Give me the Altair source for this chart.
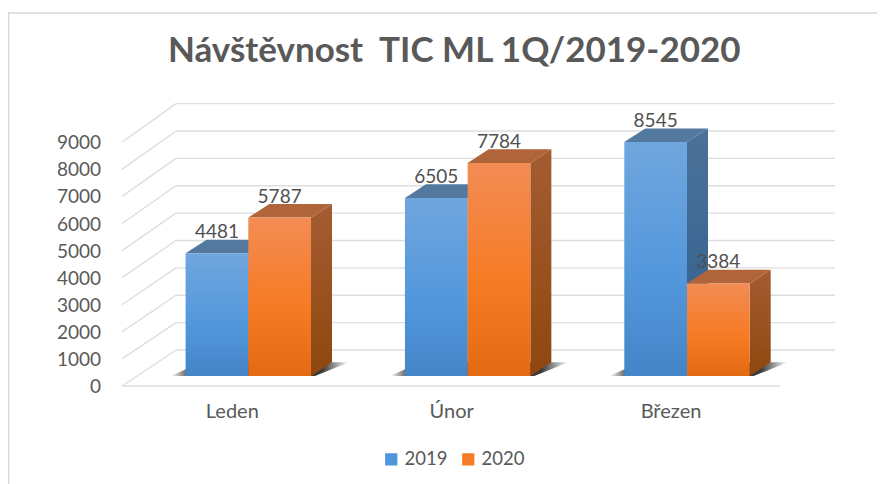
import altair as alt
import pandas as pd

categories = ["Leden", "Únor", "Březen"]
years = ["2019", "2020"]
values_2019 = [4481, 6505, 8545]
values_2020 = [5787, 7784, 3384]
grid_values = [0, 1000, 2000, 3000, 4000, 5000, 6000, 7000, 8000, 9000]

W, H = 869, 386
TOP = 90
PXV = 0.02737      # px per visit
SLOT = 219.35      # px per category
X0 = 248.3 - 8     # px of first category centre
Y0 = 376 - 8 - TOP # px of value 0 on bar front
BAR = 62.7 / SLOT
DX = 21 / SLOT
DV = 13.7 / PXV
FDX = 54 / SLOT
FRONT_V = -10 / PXV
BACK_V = 26 / PXV
FRONT_K = 27.08 / 27.37   # the nearer edge of the left wall is slightly tighter
WALL_L = (122 - 8 - X0) / SLOT
WALL_R = (835 - 8 - X0) / SLOT
FLOOR_R = (780 - 8 - X0) / SLOT

xs = alt.Scale(domain=[-X0 / SLOT, (W - X0) / SLOT], range=[0, W], nice=False, zero=False)
ys = alt.Scale(domain=[(Y0 - H) / PXV, Y0 / PXV], range=[H, 0], nice=False, zero=False)


def X(f):
    return alt.X(f, type="quantitative", scale=xs, axis=None)


def Y(f):
    return alt.Y(f, type="quantitative", scale=ys, axis=None)


def grad(*stops, horizontal=False):
    st = [alt.GradientStop(color=c, offset=o) for o, c in stops]
    if horizontal:
        return alt.LinearGradient(gradient="linear", stops=st, x1=0, x2=1, y1=0, y2=0)
    return alt.LinearGradient(gradient="linear", stops=st, x1=0, x2=0, y1=0, y2=1)


def quad(key, bl, br, tl, tr, low, high):
    """Parallelogram with lower edge bl..br at `low`, upper edge tl..tr at `high`."""
    return [
        dict(c=key, x=bl, y=low, y2=low),
        dict(c=key, x=tl, y=high, y2=low),
        dict(c=key, x=br, y=high, y2=low),
        dict(c=key, x=tr, y=high, y2=high),
    ]


SERIES = {
    "2019": dict(vals=values_2019, lo=-BAR, hi=0,
                 front=grad((0, "#70A6DE"), (0.55, "#5498DC"), (1, "#4485C8")),
                 side=grad((0, "#4C7198"), (1, "#2F5F90")), top="#54799F"),
    "2020": dict(vals=values_2020, lo=0, hi=BAR,
                 front=grad((0, "#F38C55"), (0.55, "#F67B25"), (1, "#E36A12")),
                 side=grad((0, "#A45C33"), (1, "#8F470E")), top="#B0643A"),
}

layers = []

# frame of the pasted picture
FRAME_V = (Y0 + TOP - 5) / PXV
frame = pd.DataFrame([dict(x=(0.5 - X0) / SLOT, y=FRAME_V, y2=(Y0 - H) / PXV)])
layers.append(alt.Chart(frame).mark_rule(color="#D6D6D6", strokeWidth=1.5, clip=False).encode(
    x=X("x"), y=Y("y"), y2="y2"))
frame_top = pd.DataFrame([dict(x=-X0 / SLOT, x2=(W - X0) / SLOT, y=FRAME_V)])
layers.append(alt.Chart(frame_top).mark_rule(color="#D6D6D6", strokeWidth=1.5, clip=False).encode(
    x=X("x"), x2="x2", y=Y("y")))

# gridlines: back wall, left wall, floor front
back = pd.DataFrame([dict(x=WALL_L + FDX, x2=WALL_R, y=v + BACK_V) for v in grid_values])
layers.append(alt.Chart(back).mark_rule(color="#DEDEDE", strokeWidth=1.4).encode(
    x=X("x"), x2="x2", y=Y("y")))
slants = []
for v in grid_values:
    slants += [dict(v=v, x=WALL_L, y=v * FRONT_K + FRONT_V), dict(v=v, x=WALL_L + FDX, y=v + BACK_V)]
layers.append(alt.Chart(pd.DataFrame(slants)).mark_line(color="#DEDEDE", strokeWidth=1.4).encode(
    x=X("x"), y=Y("y"), detail="v:N"))
floor = pd.DataFrame([dict(x=WALL_L, x2=FLOOR_R, y=FRONT_V)])
layers.append(alt.Chart(floor).mark_rule(color="#DEDEDE", strokeWidth=1.4).encode(
    x=X("x"), x2="x2", y=Y("y")))

# floor shadows
shadow_rows = []
for i in range(3):
    shadow_rows += quad(i, i - BAR - 15 / SLOT, i + BAR + 4 / SLOT,
                        i - BAR + 16 / SLOT, i + BAR + 38 / SLOT, 0, DV)
layers.append(
    alt.Chart(pd.DataFrame(shadow_rows)).mark_area(
        color=grad((0, "#FFFFFF"), (0.1, "#5A5650"), (0.85, "#3A3A3A"), (1, "#FFFFFF"), horizontal=True),
    ).encode(x=X("x"), y=Y("y"), y2="y2", detail="c:N")
)

# hidden points under the first bars: they carry the legend
legend_df = pd.DataFrame([dict(rok=y, x=-0.14 if y == "2019" else 0.14, v=200) for y in years])
layers.append(
    alt.Chart(legend_df).mark_square(size=4, opacity=1).encode(
        x=X("x"), y=Y("v"),
        color=alt.Color("rok:N", scale=alt.Scale(domain=years, range=["#5096DA", "#F57B26"]),
                        legend=alt.Legend(
                            title=None, orient="none", direction="horizontal",
                            legendX=374, legendY=352, symbolType="square", symbolSize=150,
                            symbolStrokeWidth=0, labelFont="Lato", labelFontSize=18.5,
                            labelColor="#595959", columnPadding=11, labelOffset=4,
                        )),
    )
)

# 3-D bars, 2019 first so that 2020 overlaps it
label_rows = []
for yr in years:
    s = SERIES[yr]
    side, top, front = [], [], []
    for i, (cat, v) in enumerate(zip(categories, s["vals"])):
        l, r = i + s["lo"], i + s["hi"]
        side += [dict(c=cat, x=r, y=v, y2=0), dict(c=cat, x=r + DX, y=v + DV, y2=DV)]
        top += quad(cat, l, r, l + DX, r + DX, v, v + DV)
        front.append(dict(c=cat, x=l, x2=r, y=v, y2=0))
        label_rows.append(dict(x=(l + r) / 2, y=v, t=str(v)))
    layers.append(alt.Chart(pd.DataFrame(side)).mark_area(color=s["side"]).encode(
        x=X("x"), y=Y("y"), y2="y2", detail="c:N"))
    layers.append(alt.Chart(pd.DataFrame(top)).mark_area(color=s["top"]).encode(
        x=X("x"), y=Y("y"), y2="y2", detail="c:N"))
    layers.append(alt.Chart(pd.DataFrame(front)).mark_rect(color=s["front"]).encode(
        x=X("x"), x2="x2", y=Y("y"), y2="y2"))

# data labels
layers.append(alt.Chart(pd.DataFrame(label_rows)).mark_text(
    font="Lato", fontSize=19, color="#505050", dy=-21, baseline="middle", align="center"
).encode(x=X("x"), y=Y("y"), text="t:N"))

# value axis labels on the front corner of the left wall
tick_df = pd.DataFrame([dict(x=WALL_L - 21 / SLOT, y=v * FRONT_K + FRONT_V, t=str(v)) for v in grid_values])
layers.append(alt.Chart(tick_df).mark_text(
    font="Lato", fontSize=19, color="#595959", align="right", baseline="middle", dy=1
).encode(x=X("x"), y=Y("y"), text="t:N"))

# category labels
cat_df = pd.DataFrame([dict(x=i - 16 / SLOT, y=FRONT_V - 26 / PXV, t=c) for i, c in enumerate(categories)])
layers.append(alt.Chart(cat_df).mark_text(
    font="Lato", fontSize=20, color="#595959", align="center", baseline="middle"
).encode(x=X("x"), y=Y("y"), text="t:N"))

chart = alt.layer(*layers).properties(
    width=W, height=H,
    padding={"left": 0, "right": 0, "top": TOP, "bottom": 0},
    autosize=alt.AutoSizeParams(type="none"),
    background="white",
    title=alt.TitleParams(
        "Návštěvnost\u00a0 TIC ML 1Q/2019-2020", font="Lato", fontSize=35, fontWeight="bold",
        color="#595959", anchor="start", dx=160, dy=57, offset=0, frame="group",
    ),
).configure_view(stroke=None)

chart.save("out.html", embed_options={"renderer": "svg", "actions": False})
